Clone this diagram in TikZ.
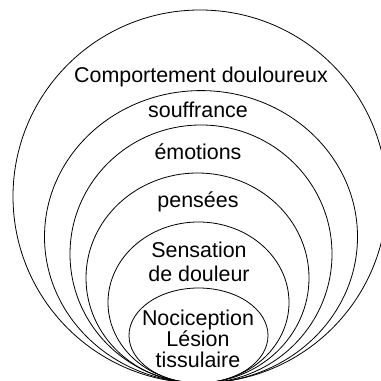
\documentclass[tikz,border=0pt]{standalone}
\usepackage{fontspec}
\setmainfont{Liberation Sans}
\tikzset{
  layer/.style={thin,line width=0.6pt},
  level/.style={anchor=base,align=center,inner sep=0pt,font=\fontsize{16}{18.4}\selectfont}
}
\begin{document}
\begin{tikzpicture}[x=0.02625cm,y=0.02625cm]
    \clip (0,0) rectangle (381,381);

    % Nested layers, all touching at the bottom
    \draw[layer] (200,184.5) ellipse [x radius=187, y radius=186.5];
    \draw[layer] (201,144.2) ellipse [x radius=156.5, y radius=146.2];
    \draw[layer] (201,127) ellipse [x radius=131, y radius=129];
    \draw[layer] (197.5,103) ellipse [x radius=111.5, y radius=105];
    \draw[layer] (198.5,78.5) ellipse [x radius=90.5, y radius=80.5];
    \draw[layer] (198.5,45.5) ellipse [x radius=69.5, y radius=47.5];

    % Labels, outside in
    \node[level] (comportement) at (201,298) {Comportement douloureux};
    \node[level] (souffrance) at (198,263) {souffrance};
    \node[level] (emotions) at (198,221) {émotions};
    \node[level] (pensees) at (198,173) {pensées};
    \node[level,anchor=north] (sensation) at (199,139.5) {Sensation\\de douleur};
    \node[level,anchor=north,font=\fontsize{16}{15.6}\selectfont] (nociception) at (198,71) {Nociception\\Lésion\\tissulaire};
  \end{tikzpicture}
\end{document}
